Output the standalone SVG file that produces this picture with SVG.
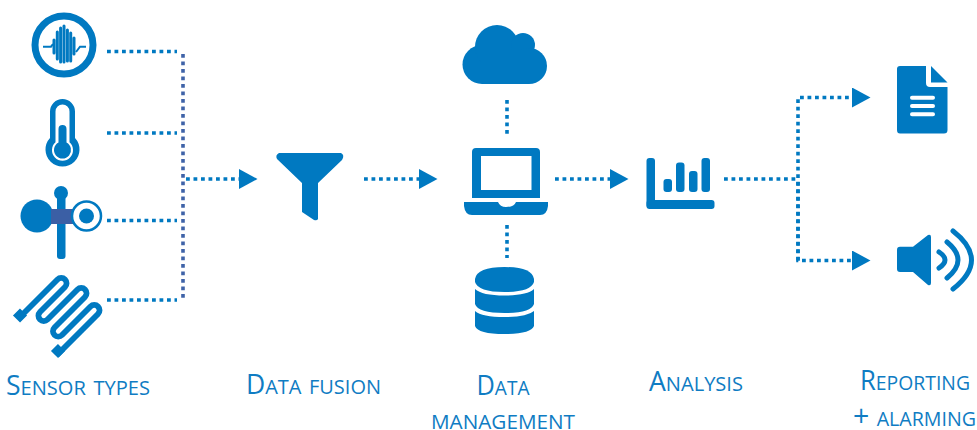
<svg xmlns="http://www.w3.org/2000/svg" width="977" height="430" viewBox="0 0 977 430">
<style>
.f{fill:#0079c1}
.s{fill:none;stroke:#0079c1;stroke-width:5;stroke-linecap:round}
.d{fill:none;stroke:#0079c1;stroke-width:3.6;stroke-dasharray:3.8 3.7}
.v{stroke:#3f63a8}
.t{font-family:"Open Sans","Noto Sans",sans-serif;fill:#0f7cc3;font-weight:400;text-anchor:middle;font-variant:small-caps;font-size:29px}
.c{font-size:26.500px;font-variant:normal}
</style>
<defs><marker id="a" markerUnits="userSpaceOnUse" markerWidth="19" markerHeight="20" refX="0" refY="10" orient="auto"><path d="M0 0L18.500 10L0 20Z" fill="#0079c1"/></marker></defs>
<g id="connectors">
<path class="d" d="M107 51.500H177M107 133H177M107 220.500H177M107 300H177"/>
<path class="d v" d="M183 54V300"/>
<path class="d" d="M186 179H239" marker-end="url(#a)"/>
<path class="d" d="M364 179H419" marker-end="url(#a)"/>
<path class="d" d="M555 179H610" marker-end="url(#a)"/>
<path class="d" d="M724 179H796"/>
<path class="d" d="M798 260.500V97.500H852" marker-end="url(#a)"/>
<path class="d" d="M798 182V260.500H852" marker-end="url(#a)"/>
<path class="d" d="M507 100V135M507 225V258"/>
</g>
<g id="sensor-vibration">
<circle cx="64" cy="45" r="29" fill="none" stroke="#0079c1" stroke-width="7"/>
<path d="M43 46.700H51L53 44M76 52L80 46.700H86" fill="none" stroke="#0079c1" stroke-width="2"/>
<path d="M54 40V53M57.300 32V59M60.600 28V62M64 26V62M67.400 30V61M70.700 33V61M74 38V54" stroke="#0079c1" stroke-width="3" stroke-linecap="round"/>
</g>
<g id="sensor-thermometer">
<path class="f" d="M50 111.500a12.500 12.500 0 0 1 25 0V138a17 17 0 1 1-25 0Z"/>
<path d="M55.500 111.500a7 7 0 0 1 14 0V142.300a10.500 10.500 0 1 1-14 0Z" fill="#fff"/>
<path class="f" d="M58.500 129a4 4 0 0 1 8 0V142.500a8.500 8.500 0 1 1-8 0Z"/>
</g>
<g id="sensor-flow">
<rect class="f" x="57" y="190" width="8.500" height="69" rx="3"/>
<circle class="f" cx="61" cy="193" r="7"/>
<circle class="f" cx="37" cy="216" r="16.500"/>
<rect x="51" y="209" width="24" height="15" fill="#3b5fa5"/>
<circle cx="86.500" cy="216" r="14.500" fill="#fff" stroke="#0079c1" stroke-width="2.500"/>
<circle class="f" cx="86.500" cy="216" r="7.500"/>
</g>
<g id="sensor-strain">
<path d="M20 317L57.500 279.500A5.300 5.300 0 0 1 65 287L40 312A5.300 5.300 0 0 0 47.500 319.500L77.500 289.500A5.300 5.300 0 0 1 85 297L54.500 327.500A5.300 5.300 0 0 0 62 335L90.500 306.500A5.300 5.300 0 0 1 98 314L57 355" fill="none" stroke="#0079c1" stroke-width="5.800"/>
<path d="M16.500 319L23.500 312M54.500 354.500L61.500 347.500" fill="none" stroke="#0079c1" stroke-width="10"/>
</g>
<g id="funnel"><path class="f" d="M279 153H341Q345 155 342 160L318 183V219Q317 221 314 220L302 212V183L277 159Q275 155 279 153Z"/></g>
<g id="cloud"><circle class="f" cx="482" cy="64.500" r="19.500"/><circle class="f" cx="497" cy="47" r="22"/><circle class="f" cx="523" cy="45" r="12"/><circle class="f" cx="529" cy="66" r="18"/><rect class="f" x="482" y="50" width="47" height="34"/></g>
<g id="laptop"><path class="f" fill-rule="evenodd" d="M476 148H536Q540 148 540 152V198H472V152Q472 148 476 148ZM481 156V190H531.500V156Z"/><path class="f" d="M464 202H498Q500 207 506 207Q514 207 516 202H548V206Q547 215 540 215H472Q465 215 464 206Z"/></g>
<g id="database"><path class="f" d="M475 279Q477 267 504.500 267Q532 267 534 279V282Q531 292 504.500 292Q478 292 475 282Z"/><path class="f" d="M475 289Q482 295.500 504.500 295.500Q527 295.500 534 289V304Q531 313 504.500 313Q478 313 475 304Z"/><path class="f" d="M475 311Q482 317 504.500 317Q527 317 534 311V326Q531 334 504.500 334Q478 334 475 326Z"/></g>
<g id="chart"><rect class="f" x="646.500" y="158" width="8.500" height="50" rx="3"/><rect class="f" x="646.500" y="200" width="68" height="9" rx="3"/><rect class="f" x="663.500" y="179" width="8.500" height="13" rx="3"/><rect class="f" x="676" y="162.500" width="8.500" height="29.500" rx="3"/><rect class="f" x="689" y="171" width="8.500" height="21" rx="3"/><rect class="f" x="701.500" y="158" width="8.500" height="34" rx="3"/></g>
<g id="document"><path class="f" d="M900 66H926V83Q926 87 930 87H947.500V130Q947.500 133.500 944 133.500H900Q897 133.500 897 130V69Q897 66 900 66Z"/><path class="f" d="M931 66L947.500 82.500H931Z"/><path d="M912 97.700H933M912 106H933M912 114.300H933" stroke="#fff" stroke-width="4" stroke-linecap="round"/></g>
<g id="speaker"><path class="f" d="M900 246.700H913L928 235Q931 234 931 237V283Q931 286 928 285L913 272H900Q897 272 897 269V250Q897 246.700 900 246.700Z"/><path class="s" d="M939 252Q951 260 939 268"/><path class="s" d="M947 242Q969 260 947 278"/><path class="s" d="M953 231Q990 260 953 289"/></g>
<text class="t" x="78" y="395" textLength="144" lengthAdjust="spacingAndGlyphs"><tspan class="c">S</tspan>ensor types</text>
<text class="t" x="313.500" y="394" textLength="135" lengthAdjust="spacingAndGlyphs"><tspan class="c">D</tspan>ata fusion</text>
<text class="t" x="503" y="395" textLength="53" lengthAdjust="spacingAndGlyphs"><tspan class="c">D</tspan>ata</text>
<text class="t" x="503" y="429" textLength="144" lengthAdjust="spacingAndGlyphs">management</text>
<text class="t" x="696" y="391" textLength="94" lengthAdjust="spacingAndGlyphs"><tspan class="c">A</tspan>nalysis</text>
<text class="t" x="915" y="390" textLength="110" lengthAdjust="spacingAndGlyphs"><tspan class="c">R</tspan>eporting</text>
<text class="t" x="914.500" y="426" textLength="123" lengthAdjust="spacingAndGlyphs">+ alarming</text>
</svg>
